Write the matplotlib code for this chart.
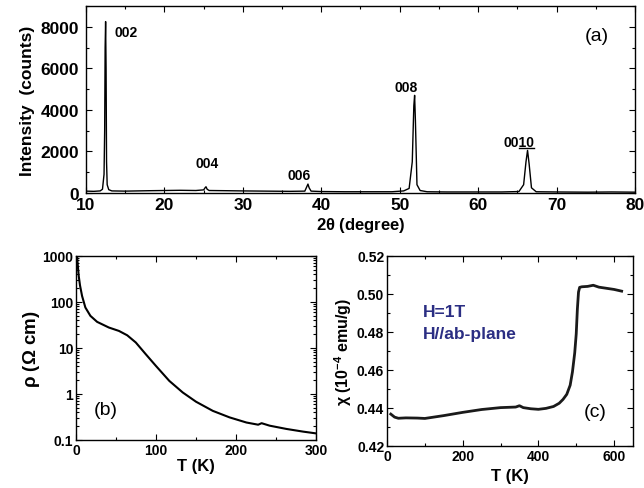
import matplotlib
matplotlib.use("Agg")
import matplotlib.pyplot as plt
from matplotlib.ticker import MultipleLocator, LogLocator, NullFormatter, FixedLocator
from matplotlib.lines import Line2D

plt.rcParams['font.family'] = ['Liberation Sans', 'DejaVu Sans']
plt.rcParams['mathtext.fontset'] = 'custom'
plt.rcParams['mathtext.rm'] = 'Liberation Sans:bold'
plt.rcParams['mathtext.bf'] = 'Liberation Sans:bold'
plt.rcParams['mathtext.it'] = 'Liberation Sans:bold'

# ---- (a) XRD data ----
xrd_2theta = [10, 11, 11.8, 12.1, 12.3, 12.38, 12.44, 12.5, 12.56, 12.62, 12.7, 12.9, 13.3,
              15, 18, 20, 22, 24, 25.0, 25.2, 25.3, 25.45, 25.7, 28, 30, 33, 36, 37.9, 38.15,
              38.3, 38.45, 38.7, 40, 43, 46, 49, 50.5, 51.2, 51.6, 51.8, 51.9, 52.0, 52.2,
              52.6, 53.5, 56, 60, 63, 65.2, 65.8, 66.1, 66.3, 66.5, 66.8, 67.4, 70, 74, 77, 80]
xrd_counts = [90, 80, 100, 180, 900, 3000, 7000, 8250, 6000, 1500, 400, 160, 100,
              90, 110, 120, 130, 120, 150, 260, 300, 180, 120, 110, 100, 90, 80, 90, 300,
              430, 250, 90, 70, 60, 60, 60, 100, 220, 1500, 4200, 4700, 3500, 400,
              120, 60, 50, 50, 50, 70, 400, 1500, 2050, 1400, 250, 60, 50, 40, 50, 40]
peak_labels = ['002', '004', '006', '008', '0010']
peak_label_x = [13.6, 25.4, 37.2, 50.8, 65.2]
peak_label_y = [7760, 1450, 870, 5100, 2460]

# ---- (b) resistivity ----
rho_T = [1.3, 2, 3.4, 5, 7.6, 11.7, 18, 26.4, 41, 53.7, 64, 74.7, 87, 99.8, 116.6,
         133.4, 150, 171, 192, 213, 227.7, 232, 242, 263, 284, 299]
rho_val = [1000, 700, 369, 230, 135, 76, 50, 37, 27.9, 23.5, 18.9, 13.2, 7.4, 4.1, 1.93,
           1.08, 0.68, 0.43, 0.31, 0.24, 0.215, 0.232, 0.205, 0.174, 0.152, 0.14]

# ---- (c) susceptibility ----
chi_T = [10, 20, 30, 50, 80, 100, 150, 200, 250, 300, 340, 350, 360, 380, 400, 420,
         440, 455, 465, 475, 484, 490, 496, 500, 503, 506, 509, 515, 530, 545, 560, 580,
         600, 620]
chi_val = [0.4368, 0.4352, 0.4346, 0.4348, 0.4347, 0.4345, 0.4360, 0.4377, 0.4392,
           0.4402, 0.4405, 0.4412, 0.4402, 0.4396, 0.4393, 0.4398, 0.4408, 0.4425,
           0.4445, 0.4472, 0.4520, 0.4590, 0.4690, 0.4790, 0.4920, 0.5010, 0.5035,
           0.5038, 0.5040, 0.5046, 0.5036, 0.5030, 0.5024, 0.5015]

W, H = 644, 489
fig = plt.figure(figsize=(W / 100, H / 100), dpi=100)

def pix_axes(x0, y0, x1, y1):
    return fig.add_axes([x0 / W, 1 - y1 / H, (x1 - x0) / W, (y1 - y0) / H])

def style(ax, fs, xpad=2, ypad=2):
    ax.tick_params(which='both', direction='in', top=True, right=True, width=0.8)
    ax.tick_params(which='major', length=4, labelsize=fs)
    ax.tick_params(axis='x', which='major', pad=xpad)
    ax.tick_params(axis='y', which='major', pad=ypad)
    ax.tick_params(which='minor', length=2)
    for lab in ax.get_xticklabels() + ax.get_yticklabels():
        lab.set_fontweight('bold')
    for s in ax.spines.values():
        s.set_linewidth(1.0)

# (a)
axa = pix_axes(86, 7, 635, 194)
axa.plot(xrd_2theta, xrd_counts, color='black', lw=1.0)
axa.set_xlim(10, 80)
axa.set_ylim(0, 9000)
axa.xaxis.set_major_locator(MultipleLocator(10))
axa.xaxis.set_minor_locator(MultipleLocator(5))
axa.yaxis.set_major_locator(FixedLocator([0, 2000, 4000, 6000, 8000]))
axa.yaxis.set_minor_locator(MultipleLocator(1000))
style(axa, 12.5, xpad=3, ypad=5)
axa.set_xlabel(r'2$\theta$ (degree)', fontsize=12, fontweight='bold', labelpad=2)
axa.set_ylabel('Intensity  (counts)', fontsize=12.5, fontweight='bold', labelpad=4)
label_texts = []
for t, x, y in zip(peak_labels, peak_label_x, peak_label_y):
    label_texts.append(axa.text(x, y, t, fontsize=10, fontweight='bold',
                                ha='left' if t == '002' else 'center', va='center'))
axa.text(0.93, 0.84, '(a)', transform=axa.transAxes, fontsize=14, ha='center', va='center')

# (b)
axb = pix_axes(76, 257, 316, 441)
axb.plot(rho_T, rho_val, color='black', lw=1.5)
axb.set_yscale('log')
axb.set_xlim(0, 300)
axb.set_ylim(0.1, 1000)
axb.xaxis.set_major_locator(MultipleLocator(100))
axb.xaxis.set_minor_locator(MultipleLocator(50))
axb.set_yticks([0.1, 1, 10, 100, 1000])
axb.set_yticklabels(['0.1', '1', '10', '100', '1000'])
axb.yaxis.set_minor_locator(LogLocator(base=10, subs=range(2, 10), numticks=20))
axb.yaxis.set_minor_formatter(NullFormatter())
style(axb, 10)
axb.set_xlabel('T (K)', fontsize=12, fontweight='bold', labelpad=1)
axb.set_ylabel(r'$\rho$ ($\Omega$ cm)', fontsize=13.5, fontweight='bold', labelpad=0)
axb.text(0.125, 0.165, '(b)', transform=axb.transAxes, fontsize=14, ha='center', va='center')

# (c)
axc = pix_axes(387, 257, 633, 447)
axc.plot(chi_T, chi_val, color='#1a1a1a', lw=2.0)
axc.set_xlim(0, 650)
axc.set_ylim(0.42, 0.52)
axc.xaxis.set_major_locator(MultipleLocator(200))
axc.xaxis.set_minor_locator(MultipleLocator(100))
axc.yaxis.set_major_locator(MultipleLocator(0.02))
axc.yaxis.set_minor_locator(MultipleLocator(0.01))
axc.yaxis.set_major_formatter(matplotlib.ticker.FormatStrFormatter('%.2f'))
style(axc, 10)
axc.set_xlabel('T (K)', fontsize=12, fontweight='bold', labelpad=4)
axc.set_ylabel(r'$\chi$ (10$^{-4}$ emu/g)', fontsize=11.5, fontweight='bold', labelpad=2)
axc.text(0.145, 0.71, 'H=1T', transform=axc.transAxes, fontsize=12.5, fontweight='bold',
         color='#2b2e83', va='center')
axc.text(0.145, 0.59, 'H//ab-plane', transform=axc.transAxes, fontsize=12.5, fontweight='bold',
         color='#2b2e83', va='center')
axc.text(0.845, 0.184, '(c)', transform=axc.transAxes, fontsize=14, ha='center', va='center')

# underline the "10" of the 0010 label
fig.canvas.draw()
r = fig.canvas.get_renderer()
t_full = label_texts[-1]
bb = t_full.get_window_extent(r)
t_tmp = axa.text(0, 0, '00', fontsize=10, fontweight='bold')
w00 = t_tmp.get_window_extent(r).width
t_tmp.remove()
inv = fig.transFigure.inverted()
(x0, y0) = inv.transform((bb.x0 + w00, bb.y0 + 1.0))
(x1, _) = inv.transform((bb.x1, bb.y0))
fig.add_artist(Line2D([x0, x1], [y0, y0], transform=fig.transFigure, color='black', lw=1.0))

fig.savefig('out.png', dpi=100)
